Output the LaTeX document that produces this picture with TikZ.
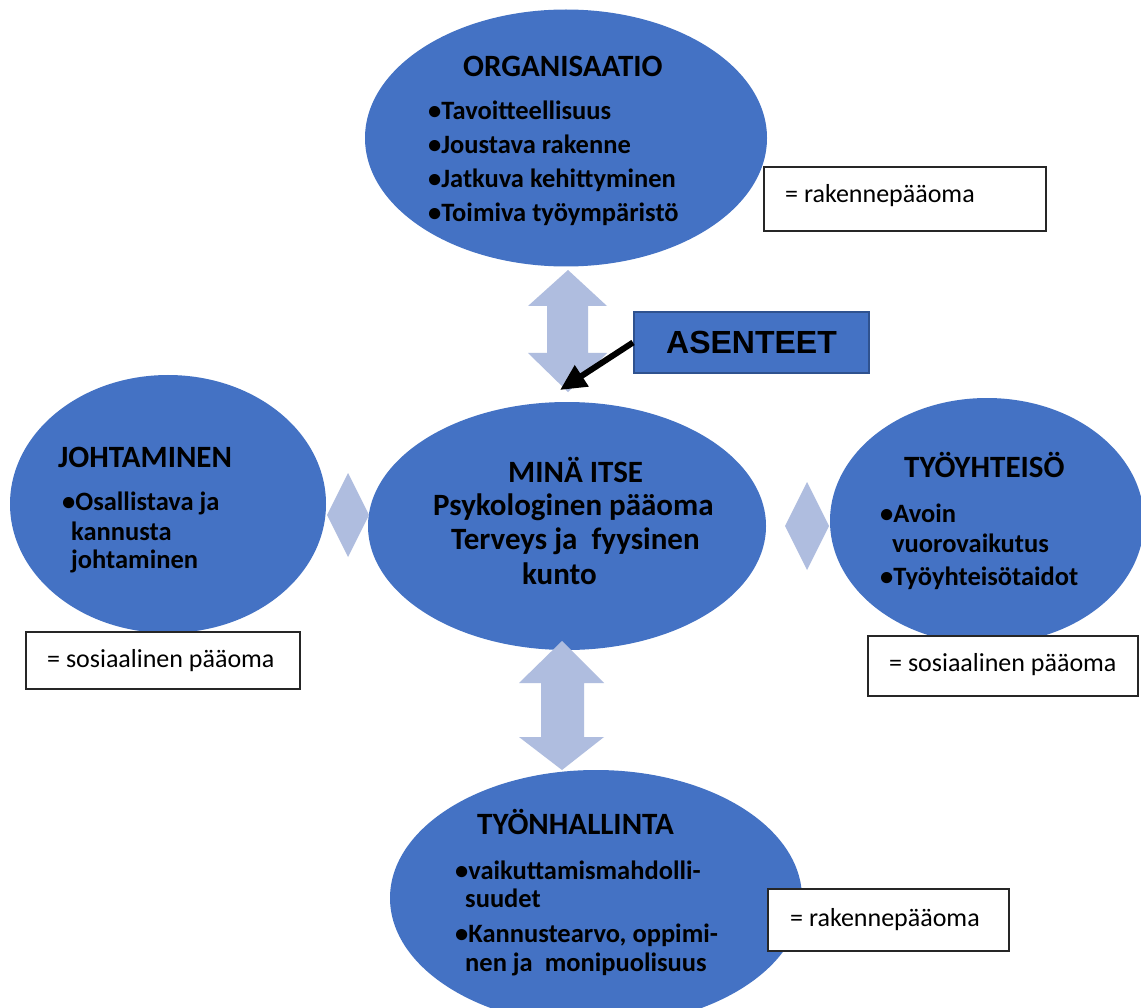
\documentclass[tikz,border=0pt]{standalone}
\usepackage{fontspec}
\setmainfont{Carlito}
\newfontfamily\arialfont{Liberation Sans}
\usetikzlibrary{arrows.meta,shapes.geometric}
\definecolor{blobblue}{HTML}{4472C4}
\definecolor{blobedge}{HTML}{2F528F}
\definecolor{lightarrow}{RGB}{175,189,223}
\begin{document}
\begin{tikzpicture}[x=1pt,y=-1pt,
  blob/.style={ellipse, fill=blobblue, inner sep=0pt},
  ttl/.style={anchor=base west, inner sep=0pt, font=\bfseries\fontsize{31}{31}\selectfont},
  itm/.style={anchor=base west, inner sep=0pt, font=\bfseries\fontsize{26.5}{26.5}\selectfont},
  ctr/.style={anchor=base west, inner sep=0pt, font=\bfseries\fontsize{31}{31}\selectfont},
  lbl/.style={rectangle, draw=black!85, line width=1.2pt, fill=white, inner sep=0pt},
  lbltxt/.style={anchor=base west, inner sep=0pt, font=\fontsize{26}{26}\selectfont},
  conn/.style={fill=lightarrow}]
\useasboundingbox (0,0) rectangle (1141,1008);
\fill[white] (0,0) rectangle (1141,1008);

% ellipses
\node[blob, minimum width=402pt, minimum height=257pt] (org) at (566,138) {};
\node[blob, minimum width=398pt, minimum height=248pt] (mina) at (567,526) {};
\node[blob, minimum width=316pt, minimum height=258pt] (joht) at (168,504) {};
\node[blob, minimum width=314pt, minimum height=246pt] (tyoy) at (987,521) {};
\node[blob, minimum width=412pt, minimum height=256pt] (tyon) at (596,898) {};

% double arrows
\fill[conn] (568,270) -- (607,306) -- (588,306) -- (588,353) -- (607,353) -- (568,392)
  -- (528,353) -- (547,353) -- (547,306) -- (528,306) -- cycle;
\fill[conn] (562,641) -- (604,683) -- (584,683) -- (584,737) -- (604,737) -- (562,770)
  -- (519,737) -- (541,737) -- (541,683) -- (519,683) -- cycle;
% diamonds
\fill[conn] (348,473) -- (369,515) -- (348,557) -- (327,515) -- cycle;
\fill[conn] (807,482) -- (829,526) -- (807,570) -- (785,526) -- cycle;

% label boxes
\node[lbl, minimum width=282pt, minimum height=64pt] (rk1) at (905,199) {};
\node[lbltxt] (rk1t) at (785,203) {= rakennepääoma};
\node[lbl, minimum width=274pt, minimum height=57pt] (so1) at (163,660.5) {};
\node[lbltxt] (so1t) at (47,667) {= sosiaalinen pääoma};
\node[lbl, minimum width=270pt, minimum height=60pt] (so2) at (1003,666) {};
\node[lbltxt] (so2t) at (889,671) {= sosiaalinen pääoma};
\node[lbl, minimum width=241pt, minimum height=62pt] (rk2) at (888.5,920) {};
\node[lbltxt] (rk2t) at (790,926) {= rakennepääoma};

% ORGANISAATIO
\node[ttl] (orgT) at (463,77) {ORGANISAATIO};
\node[itm] (org1) at (428,120) {•Tavoitteellisuus};
\node[itm] (org2) at (428,154) {•Joustava rakenne};
\node[itm] (org3) at (428,188) {•Jatkuva kehittyminen};
\node[itm] (org4) at (428,222) {•Toimiva työympäristö};

% JOHTAMINEN
\node[ttl] (johT) at (58,467) {JOHTAMINEN};
\node[itm] (joh1) at (62,510) {•Osallistava ja};
\node[itm] (joh2) at (71,540) {kannusta};
\node[itm] (joh3) at (71,568) {johtaminen};

% TYÖYHTEISÖ
\node[ttl] (tyoyT) at (904,477) {TYÖYHTEISÖ};
\node[itm] (tyoy1) at (880,522) {•Avoin};
\node[itm] (tyoy2) at (892,552) {vuorovaikutus};
\node[itm] (tyoy3) at (880,585) {•Työyhteisötaidot};

% TYÖNHALLINTA
\node[ttl] (tyonT) at (477,834) {TYÖNHALLINTA};
\node[itm] (tyon1) at (455,879) {•vaikuttamismahdolli-};
\node[itm] (tyon2) at (465,907) {suudet};
\node[itm] (tyon3) at (455,942) {•Kannustearvo, oppimi-};
\node[itm] (tyon4) at (465,971) {nen ja\ \ monipuolisuus};

% MINÄ ITSE
\node[ctr] (min1) at (508,482) {MINÄ ITSE};
\node[ctr] (min2) at (433,515) {Psykologinen pääoma};
\node[ctr] (min3) at (451,549) {Terveys ja\ \ fyysinen};
\node[ctr] (min4) at (522,584) {kunto};

% ASENTEET
\node[rectangle, fill=blobblue, draw=blobedge, line width=2pt, minimum width=235pt,
  minimum height=61pt, inner sep=0pt, font=\arialfont\bfseries\fontsize{32}{32}\selectfont]
  (asent) at (751.5,342.5) {ASENTEET};
\coordinate (tipA) at (560,390);
\draw[line width=6pt, -{Triangle[length=26pt,width=24pt]}] (asent.west) -- (tipA);
\end{tikzpicture}
\end{document}
